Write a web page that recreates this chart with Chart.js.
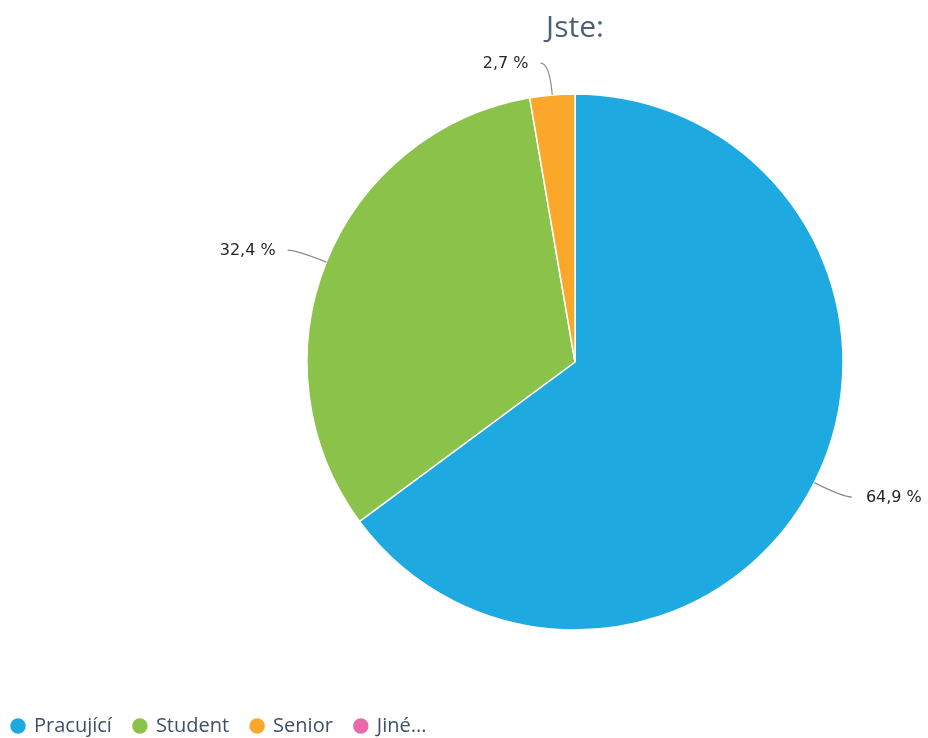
<!DOCTYPE html>
<html>
<head>
<meta charset="utf-8">
<script src="https://cdn.jsdelivr.net/npm/chart.js@4.4.1/dist/chart.umd.min.js"></script>
<style>
html,body{margin:0;padding:0;background:#fff;overflow:hidden;}
#wrap{width:928px;height:738px;position:relative;overflow:hidden;}
canvas{display:block;}
</style>
</head>
<body>
<div id="wrap"><canvas id="c" width="1150" height="738"></canvas></div>
<script>
const titleText = 'Jste:';
const categories = ['Pracující', 'Student', 'Senior', 'Jiné...'];
const counts = [24, 12, 1, 0];
const colors = ['#1fa9e1', '#8bc34a', '#fba72a', '#e86aa8'];

const total = counts.reduce((a, b) => a + b, 0);
const fmt = v => (v / total * 100).toFixed(1).replace('.', ',') + ' %';

const labelPlugin = {
  id: 'outLabels',
  afterDatasetsDraw(chart) {
    const ctx = chart.ctx;
    const meta = chart.getDatasetMeta(0);
    ctx.save();
    meta.data.forEach((arc, i) => {
      const v = counts[i];
      if (!v) return;
      const p = arc.getProps(['x', 'y', 'startAngle', 'endAngle', 'outerRadius'], true);
      const mid = (p.startAngle + p.endAngle) / 2;
      const cos = Math.cos(mid), sin = Math.sin(mid);
      const r0 = p.outerRadius;
      const x0 = p.x + cos * r0, y0 = p.y + sin * r0;
      const x1 = p.x + cos * (r0 + 32), y1 = p.y + sin * (r0 + 32);
      const right = cos >= 0;
      const x2 = x1 + (right ? 9 : -9);
      ctx.strokeStyle = '#8c8c8c';
      ctx.lineWidth = 1.2;
      ctx.beginPath();
      ctx.moveTo(x0, y0);
      ctx.quadraticCurveTo(x1, y1, x2, y1);
      ctx.stroke();
      ctx.fillStyle = '#262626';
      ctx.font = '16px "DejaVu Sans"';
      ctx.textBaseline = 'middle';
      ctx.textAlign = right ? 'left' : 'right';
      ctx.fillText(fmt(v), x2 + (right ? 14 : -12), y1 + 1);
    });
    ctx.restore();
  }
};

new Chart(document.getElementById('c'), {
  type: 'pie',
  data: {
    labels: categories,
    datasets: [{
      data: counts,
      backgroundColor: colors,
      borderColor: '#ffffff',
      borderWidth: 1.5,
      radius: 268
    }]
  },
  options: {
    responsive: false,
    animation: false,
    layout: { padding: { left: -10, right: -10, top: 0, bottom: -8 } },
    plugins: {
      tooltip: { enabled: false },
      title: {
        display: true,
        text: titleText,
        color: '#4b6079',
        font: { family: '"Open Sans"', size: 30, weight: 'normal' },
        padding: { top: 10, bottom: -16 }
      },
      legend: {
        display: true,
        position: 'bottom',
        align: 'start',
        labels: {
          usePointStyle: true,
          pointStyle: 'circle',
          boxWidth: 12,
          boxHeight: 12,
          padding: 22,
          color: '#3d5068',
          font: { family: '"Open Sans"', size: 20 }
        }
      }
    }
  },
  plugins: [labelPlugin]
});
</script>
</body>
</html>
